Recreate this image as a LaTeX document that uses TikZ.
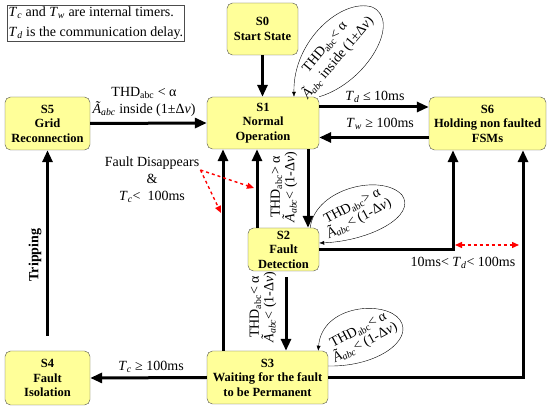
\documentclass[tikz,border=0pt]{standalone}
\usepackage{fontspec}
\setmainfont{Liberation Serif}
\usepackage{xcolor}
\usetikzlibrary{arrows.meta}
\definecolor{statefill}{RGB}{255,255,153}
\newcommand{\timer}[1]{\textit{T}\textsubscript{\textit{#1}}}
\newcommand{\thdabc}{THD\textsubscript{abc}}
\newcommand{\aabc}{\textit{Ã}\textsubscript{\textit{abc}}}

\begin{document}
\begin{tikzpicture}[
    x                 = 1pt,
    y                 = -1pt,
    every node/.style = {font=\fontsize{14}{16.5}\selectfont, inner sep=1pt},
    state/.style      = {draw=black!70, fill=statefill, rounded corners=1.2ex, align=center,
                         font=\fontsize{12.5}{14.5}\selectfont\bfseries},
    flow/.style       = {line width=3pt, -{Triangle[length=12pt,width=10pt]}},
    selfloop/.style   = {thin, -{Latex[length=5pt,width=4pt]}},
    hint/.style       = {red, dashed, line width=1.4pt, >={Triangle[length=7pt,width=6pt]}},
    cond/.style       = {align=center, font=\fontsize{14}{17}\selectfont},
    tight/.style      = {align=center, font=\fontsize{14}{14.5}\selectfont}
  ]
\useasboundingbox (0,0) rectangle (550,409);

\node[draw=black!70, align=left, anchor=north west, inner sep=1.5pt,
      font=\fontsize{14}{20}\selectfont] (legend) at (7,5)
      {\timer{c} and \timer{w} are internal timers.\\\timer{d} is the communication delay.};

\node[state, minimum width=71pt,  minimum height=52pt] (s0) at (262.5,29)  {S0\\Start State};
\node[state, minimum width=112pt, minimum height=52pt] (s1) at (263,123)   {S1\\Normal\\Operation};
\node[state, minimum width=85pt,  minimum height=53pt] (s5) at (47.5,123.5) {S5\\Grid\\Reconnection};
\node[state, minimum width=117pt, minimum height=53pt] (s6) at (487.5,123.5) {S6\\Holding non faulted\\FSMs};
\node[state, minimum width=71pt,  minimum height=43pt] (s2) at (283.5,249.5) {S2\\Fault\\Detection};
\node[state, minimum width=121pt, minimum height=53pt] (s3) at (267.5,377.5) {S3\\Waiting for the fault\\to be Permanent};
\node[state, minimum width=85pt,  minimum height=54pt] (s4) at (47.5,378)  {S4\\Fault\\Isolation};

\draw[flow] (s0.south) -- (s0.south |- s1.north);
\draw[flow] (s5.east) -- (s1.west);
\draw[flow] ([yshift=16pt]s1.east) -- ([yshift=16pt]s1.east -| s6.west);
\draw[flow] ([yshift=-14pt]s6.west) -- ([yshift=-14pt]s6.west -| s1.east);
\draw[flow] ([xshift=45pt]s1.south) -- ([xshift=45pt]s1.south |- s2.north);
\draw[flow] ([xshift=-26.5pt]s2.north) -- ([xshift=-26.5pt]s2.north |- s1.south);
\draw[flow] ([xshift=-44.5pt]s3.north) -- ([xshift=-44.5pt]s3.north |- s1.south);
\draw[flow] ([xshift=2.5pt,yshift=-6pt]s2.south) -- ([xshift=2.5pt]s2.south |- s3.north);
\draw[flow] (s2.east) -| ([xshift=-34.5pt]s6.south);
\draw[flow] (s3.east) -| ([xshift=35.5pt]s6.south);
\draw[flow] (s3.west) -- (s4.east);
\draw[flow] ([yshift=15pt]s4.north) -- (s5.south);

\draw[selfloop] (s1.north east) .. controls (368,82) and (402,20) .. (372,7)
                .. controls (342,-2) and (293,40) .. ([xshift=31pt]s1.north);
\draw[selfloop] ([xshift=-9pt]s2.north east) .. controls (315,188) and (382,173) .. (402,195)
                .. controls (417,216) and (370,241) .. ([yshift=6.5pt]s2.east);
\draw[selfloop] ([yshift=11.5pt]s3.east) .. controls (377,367) and (414,340) .. (400,320)
                .. controls (386,300) and (322,304) .. ([xshift=-10pt]s3.north east);

\node[cond] (c51) at (144,102) {\thdabc{} < α\\\aabc{} inside (1±Δ\textit{v})};
\node[cond] (c16) at (375,97)  {\timer{d} ≤ 10ms};
\node[cond] (c61) at (380,124) {\timer{w} ≥ 100ms};
\node[cond] (c34) at (151,367) {\timer{c} ≥ 100ms};
\node[cond] (ctd) at (463,263) {10ms< \timer{d}< 100ms};
\node[tight, rotate=90] (c12) at (284,187) {\thdabc{}> α\\\aabc{}< (1-Δ\textit{v})};
\node[tight, rotate=90] (c23) at (263,307) {\thdabc{}< α\\\aabc{}< (1-Δ\textit{v})};
\node[cond, rotate=50] (c11) at (332,53)  {\thdabc{}< α\\\aabc{} inside (1±Δ\textit{v})};
\node[tight, rotate=28] (c22) at (356,213) {\thdabc{}> α\\\aabc{}< (1-Δ\textit{v})};
\node[tight, rotate=28] (c33) at (362,337) {\thdabc{}< α\\\aabc{}< (1-Δ\textit{v})};
\node[font=\fontsize{14}{16}\selectfont\bfseries, rotate=90] (trip) at (35,255) {Tripping};
\node[cond, align=center] (fault) at (152,180) {Fault Disappears\\\&\\\timer{c}<\enspace 100ms};

\coordinate (fdup)  at (254,188);
\coordinate (fdlow) at (221,213);
\coordinate (tdl)   at (455,245);
\coordinate (tdr)   at (519,245);
\draw[hint, ->] ([yshift=10pt]fault.east) -- (fdup);
\draw[hint, ->] ([yshift=10pt]fault.east) -- (fdlow);
\draw[hint, <->] (tdl) -- (tdr);
\end{tikzpicture}
\end{document}
